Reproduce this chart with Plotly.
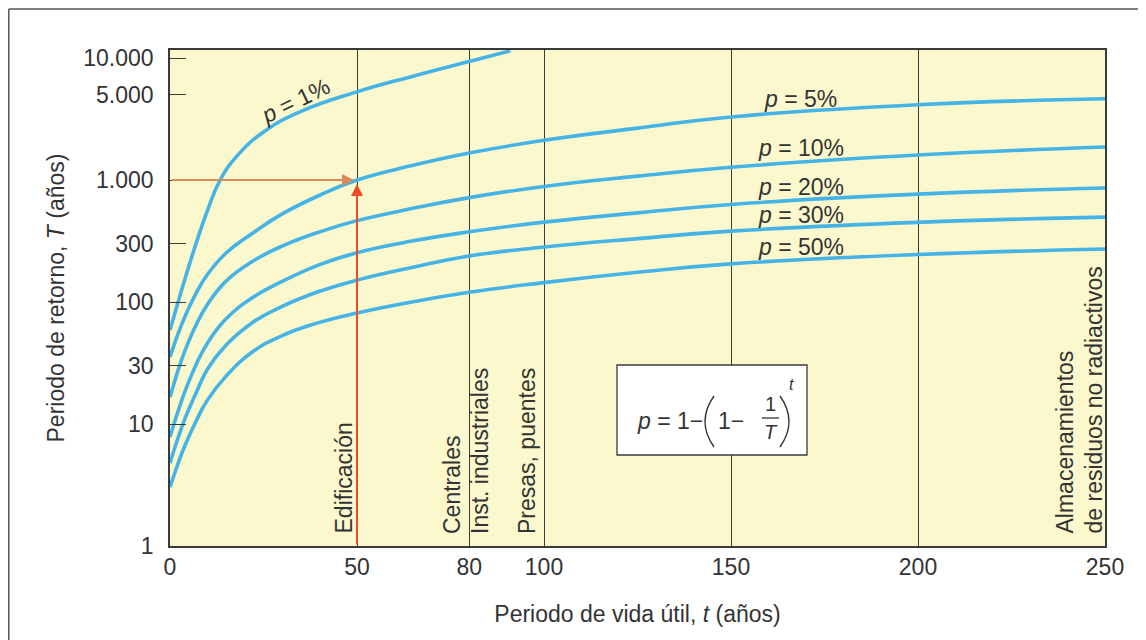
import math
import plotly.graph_objects as go

# ---------------- data ----------------
t_grid = [0, 1, 2, 4, 7, 10, 15, 22, 30, 40, 50, 65, 80, 100, 125, 150, 200, 250]
t_p1 = [0, 1, 2, 4, 7, 10, 13.4, 18, 25, 35, 50, 65, 80, 91]
T_p1 = [58.95, 75.2, 96.3, 154.7, 303.9, 561.4, 1000, 1585, 2474, 3650, 5284, 7106, 9361, 11455]
T_p5 = [35.4, 43.7, 53.3, 76.1, 118.5, 168.1, 252.1, 365.0, 527.4, 750.6, 1000, 1320, 1665,
        2116, 2663, 3290, 4142, 4639]
T_p10 = [16.65, 21.1, 26.6, 40.0, 65.2, 95.4, 148.4, 214.8, 287.7, 376.2, 464.8, 586.1, 717.4,
         886.2, 1076, 1273, 1603, 1864]
T_p20 = [7.82, 9.85, 12.3, 18.5, 30.8, 46.0, 72.8, 108.2, 147.5, 202.6, 254.0, 317.4, 376.2,
         451.8, 538.4, 631.0, 766.2, 861.4]
T_p30 = [4.79, 6.01, 7.45, 11.07, 18.0, 28.1, 44.4, 67.7, 92.2, 122.4, 151.2, 192.9, 238.3,
         282.4, 330.9, 381.1, 450.1, 496.5]
T_p50 = [3.05, 3.75, 4.61, 6.67, 10.6, 15.7, 24.7, 38.9, 53.1, 68.1, 81.2, 100.4, 120.1,
         144.2, 175.2, 205.3, 245.1, 272.4]

curve_names = ["1%", "5%", "10%", "20%", "30%", "50%"]

x_ticks = [0, 50, 80, 100, 150, 200, 250]
y_ticks = [1, 10, 30, 100, 300, 1000, 5000, 10000]
y_ticktext = ["1", "10", "30", "100", "300", "1.000", "5.000", "10.000"]

use_labels = ["Edificación", "Centrales", "Inst. industriales", "Presas, puentes",
              "Almacenamientos", "de residuos no radiactivos"]

example_t = 50
example_T = 1000

# ---------------- styling ----------------
FONT = "Liberation Sans, Arial, Helvetica, sans-serif"
TXT = "#333333"
BLUE = "#46B3E6"
LINE = "#3a3a3a"

OFF = 8                       # the page body margin of the html file
L, R, TOP, BOT = 170, 1105, 50, 546   # plot area in page pixels
W, H = 1146 - OFF, 640 - OFF


def P(px, py):
    """page pixel position -> paper coordinates"""
    return (px - L) / (R - L), (BOT - py) / (BOT - TOP)


fig = go.Figure()

series = [(t_p1, T_p1)] + [(t_grid, s) for s in (T_p5, T_p10, T_p20, T_p30, T_p50)]
for (tx, ty), name in zip(series, curve_names):
    fig.add_trace(go.Scatter(
        x=tx, y=ty, mode="lines", name="p = " + name,
        line=dict(color=BLUE, width=3.6, shape="spline", smoothing=1.3),
        hoverinfo="skip"))

fig.update_layout(
    width=W, height=H,
    margin=dict(l=L - OFF, r=W - (R - OFF), t=TOP - OFF, b=H - (BOT - OFF), pad=0),
    paper_bgcolor="white", plot_bgcolor="#FBF8CD",
    showlegend=False,
    font=dict(family=FONT, size=23, color=TXT),
)

fig.update_xaxes(
    range=[0, 250], tickvals=x_ticks, ticktext=[str(v) for v in x_ticks],
    showgrid=True, gridcolor=LINE, gridwidth=1.3,
    showline=True, mirror=True, linecolor=LINE, linewidth=1.5,
    ticks="", zeroline=False, ticklabelstandoff=0, automargin=False,
    tickfont=dict(size=23, color=TXT),
    title=dict(text="Periodo de vida útil, <i>t</i> (años)", standoff=27,
               font=dict(size=23, color=TXT)),
)
fig.update_yaxes(
    type="log", range=[0, 4.066], tickvals=y_ticks, ticktext=y_ticktext,
    ticks="inside", ticklen=16, tickwidth=1.3, tickcolor=LINE,
    showgrid=False, showline=True, mirror=True, linecolor=LINE, linewidth=1.5,
    zeroline=False, ticklabelstandoff=10, automargin=False,
    tickfont=dict(size=23, color=TXT),
    title=dict(text="Periodo de retorno, <i>T</i> (años)", standoff=12,
               font=dict(size=23, color=TXT)),
)

# ---------------- arrows of the worked example ----------------
ly = math.log10(example_T)
fig.add_annotation(x=example_t, y=ly, xref="x", yref="y",
                   ax=0, ay=ly, axref="x", ayref="y", text="",
                   showarrow=True, arrowhead=2, arrowsize=1.2, arrowwidth=2,
                   arrowcolor="#DC8A5C", standoff=3)
fig.add_annotation(x=example_t, y=ly, xref="x", yref="y",
                   ax=example_t, ay=0, axref="x", ayref="y", text="",
                   showarrow=True, arrowhead=2, arrowsize=1.2, arrowwidth=2,
                   arrowcolor="#EE4B2B", standoff=4)

# ---------------- curve labels ----------------
label_pos = [(295, 101, -26), (800, 99, 0), (801, 148, 0), (801, 187, 0), (801, 215, 0), (801, 247, 0)]
for name, (px, py, ang) in zip(curve_names, label_pos):
    x, y = P(px, py)
    fig.add_annotation(x=x, y=y, xref="paper", yref="paper", text="<i>p</i> = " + name,
                       showarrow=False, textangle=ang, xanchor="center", yanchor="middle",
                       borderpad=0, font=dict(size=23, color=TXT))

# ---------------- vertical use labels ----------------
use_pos = [343, 452, 480, 527, 1064, 1093]
for txt, px in zip(use_labels, use_pos):
    x, y = P(px, 535)
    fig.add_annotation(x=x, y=y, xref="paper", yref="paper", text=txt, showarrow=False,
                       textangle=-90, xanchor="center", yanchor="bottom", borderpad=0,
                       font=dict(size=23, color=TXT))

# ---------------- formula box ----------------
x0, y0 = P(617, 455)
x1, y1 = P(807, 365)
fig.add_shape(type="rect", xref="paper", yref="paper", x0=x0, y0=y0, x1=x1, y1=y1,
              fillcolor="white", line=dict(color=LINE, width=1.3), layer="above")

formula_parts = [
    ("<i>p</i> = 1−", 704, 421, 23, "right"),
    ("1−", 717, 421, 23, "left"),
    ("1", 770, 404, 20, "center"),
    ("<i>T</i>", 771, 432, 20, "center"),
    ("<i>t</i>", 791, 384, 16, "center"),
]
for txt, px, py, fs, anc in formula_parts:
    x, y = P(px, py)
    fig.add_annotation(x=x, y=y, xref="paper", yref="paper", text=txt, showarrow=False,
                       xanchor=anc, yanchor="middle", borderpad=0,
                       font=dict(size=fs, color=TXT))


def paren(px_top, px_mid, top, bottom):
    xa, ya = P(px_top, top)
    xm, ym = P(px_mid, (top + bottom) / 2)
    xb, yb = P(px_top, bottom)
    return f"M {xa} {ya} Q {2 * xm - xa} {ym} {xb} {yb}"


for path in (paren(714, 705, 396, 447), paren(780, 789, 396, 447)):
    fig.add_shape(type="path", xref="paper", yref="paper", path=path,
                  line=dict(color=TXT, width=1.4), layer="above")

bx0, by = P(762, 418)
bx1, _ = P(779, 418)
fig.add_shape(type="line", xref="paper", yref="paper", x0=bx0, y0=by, x1=bx1, y1=by,
              line=dict(color=TXT, width=1.3), layer="above")

# ---------------- outer frame ----------------
fx, fy = P(8.8, 9)
fig.add_shape(type="line", xref="paper", yref="paper", x0=fx, y0=fy, x1=1.2, y1=fy,
              line=dict(color="#555555", width=1.5))
fig.add_shape(type="line", xref="paper", yref="paper", x0=fx, y0=-0.3, x1=fx, y1=fy,
              line=dict(color="#555555", width=1.5))

fig.write_html("out.html")
